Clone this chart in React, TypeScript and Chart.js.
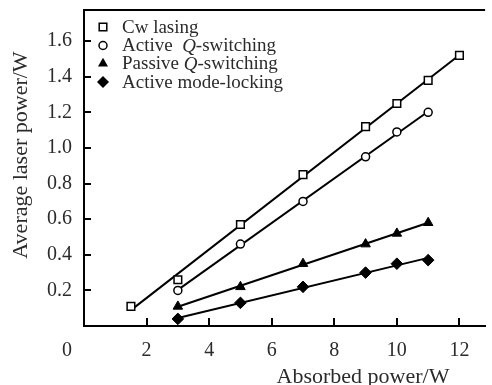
import React, { useEffect, useRef } from 'react';
import { Chart, registerables } from 'chart.js';

Chart.register(...registerables);

// Data
const cwX = [1.5, 3, 5, 7, 9, 10, 11, 12];
const cwY = [0.11, 0.26, 0.57, 0.85, 1.12, 1.25, 1.38, 1.52];
const aqX = [3, 5, 7, 9, 10, 11];
const aqY = [0.2, 0.46, 0.7, 0.95, 1.09, 1.2];
const pqX = [3, 5, 7, 9, 10, 11];
const pqY = [0.11, 0.22, 0.35, 0.46, 0.52, 0.58];
const mlX = [3, 5, 7, 9, 10, 11];
const mlY = [0.04, 0.13, 0.22, 0.3, 0.35, 0.37];

const xTicks = [2, 4, 6, 8, 10, 12];
const yTicks = [0.2, 0.4, 0.6, 0.8, 1.0, 1.2, 1.4, 1.6];
const xTitle = 'Absorbed power/W';
const yTitle = 'Average laser power/W';
const originLabel = '0';

type Part = { t: string; i?: boolean };
const legendItems: { marker: string; parts: Part[] }[] = [
  { marker: 'square', parts: [{ t: 'Cw lasing' }] },
  { marker: 'circle', parts: [{ t: 'Active  ' }, { t: 'Q', i: true }, { t: '-switching' }] },
  { marker: 'triangle', parts: [{ t: 'Passive ' }, { t: 'Q', i: true }, { t: '-switching' }] },
  { marker: 'diamond', parts: [{ t: 'Active mode-locking' }] },
];

const SERIF = "'Liberation Serif', 'Times New Roman', serif";
const TEXT = '#2b2b2b';

function pts(xs: number[], ys: number[]) {
  return xs.map((x, i) => ({ x, y: ys[i] }));
}

function fit(xs: number[], ys: number[]) {
  const n = xs.length;
  const mx = xs.reduce((a, b) => a + b, 0) / n;
  const my = ys.reduce((a, b) => a + b, 0) / n;
  let sxx = 0, sxy = 0;
  for (let i = 0; i < n; i++) {
    sxx += (xs[i] - mx) ** 2;
    sxy += (xs[i] - mx) * (ys[i] - my);
  }
  const b = sxy / sxx;
  const a = my - b * mx;
  const x0 = xs[0], x1 = xs[n - 1];
  return [{ x: x0, y: a + b * x0 }, { x: x1, y: a + b * x1 }];
}

function drawMarker(ctx: CanvasRenderingContext2D, kind: string, x: number, y: number) {
  ctx.save();
  ctx.lineWidth = 1.5;
  ctx.strokeStyle = '#000';
  ctx.beginPath();
  if (kind === 'square') {
    ctx.rect(x - 3.8, y - 3.8, 7.6, 7.6);
    ctx.fillStyle = '#fff';
    ctx.fill();
    ctx.stroke();
  } else if (kind === 'circle') {
    ctx.arc(x, y, 4, 0, Math.PI * 2);
    ctx.fillStyle = '#fff';
    ctx.fill();
    ctx.stroke();
  } else if (kind === 'triangle') {
    const r = 5.8;
    ctx.moveTo(x, y - r);
    ctx.lineTo(x + r * Math.sin((2 * Math.PI) / 3), y - r * Math.cos((2 * Math.PI) / 3));
    ctx.lineTo(x - r * Math.sin((2 * Math.PI) / 3), y - r * Math.cos((2 * Math.PI) / 3));
    ctx.closePath();
    ctx.fillStyle = '#000';
    ctx.fill();
  } else {
    const r = 6;
    ctx.moveTo(x, y - r);
    ctx.lineTo(x + r, y);
    ctx.lineTo(x, y + r);
    ctx.lineTo(x - r, y);
    ctx.closePath();
    ctx.fillStyle = '#000';
    ctx.fill();
  }
  ctx.restore();
}

const decor = {
  id: 'decor',
  afterDraw(chart: any) {
    const { ctx, chartArea, scales } = chart;
    const xs = scales.x, ys = scales.y;
    ctx.save();
    // top frame line
    ctx.strokeStyle = '#000';
    ctx.lineWidth = 2;
    ctx.beginPath();
    ctx.moveTo(chartArea.left - 1, chartArea.top);
    ctx.lineTo(chartArea.right, chartArea.top);
    ctx.stroke();
    // inward ticks
    ctx.lineWidth = 2;
    ctx.beginPath();
    xTicks.forEach((v) => {
      const px = Math.round(xs.getPixelForValue(v));
      ctx.moveTo(px, chartArea.bottom);
      ctx.lineTo(px, chartArea.bottom - 8);
    });
    yTicks.forEach((v) => {
      const py = Math.round(ys.getPixelForValue(v));
      ctx.moveTo(chartArea.left, py);
      ctx.lineTo(chartArea.left + 7, py);
    });
    ctx.stroke();

    // origin label
    ctx.fillStyle = TEXT;
    ctx.font = `20px ${SERIF}`;
    ctx.textAlign = 'center';
    ctx.textBaseline = 'alphabetic';
    ctx.fillText(originLabel, chartArea.left - 17, 356);

    // axis titles
    ctx.font = `22px ${SERIF}`;
    ctx.fillText(xTitle, 363, 383);
    ctx.save();
    ctx.translate(27, 155);
    ctx.rotate(-Math.PI / 2);
    ctx.fillText(yTitle, 0, 0);
    ctx.restore();

    // legend
    const rowY = [27, 45.5, 63.5, 82];
    legendItems.forEach((item, i) => {
      const y = rowY[i];
      drawMarker(ctx, item.marker, 103, y);
      let x = 122;
      ctx.textAlign = 'left';
      ctx.textBaseline = 'middle';
      ctx.fillStyle = TEXT;
      item.parts.forEach((p) => {
        ctx.font = `${p.i ? 'italic ' : ''}19px ${SERIF}`;
        ctx.fillText(p.t, x, y + 1);
        x += ctx.measureText(p.t).width;
      });
    });
    ctx.restore();
  },
};

export default function App() {
  const ref = useRef<HTMLCanvasElement | null>(null);
  useEffect(() => {
    if (!ref.current) return;
    const pointDs = (label: string, data: any[], style: string, radius: number, filled: boolean) => ({
      label,
      data,
      showLine: false,
      pointStyle: style,
      pointRadius: radius,
      pointBorderWidth: filled ? 1 : 1.5,
      pointBorderColor: '#000',
      pointBackgroundColor: filled ? '#000' : '#fff',
      order: 1,
    });
    const lineDs = (label: string, data: any[]) => ({
      label,
      data,
      showLine: true,
      borderColor: '#000',
      borderWidth: 2,
      pointRadius: 0,
      fill: false,
      order: 2,
    });
    const chart = new Chart(ref.current, {
      type: 'scatter',
      data: {
        datasets: [
          lineDs('cw fit', fit(cwX, cwY)),
          lineDs('aq fit', fit(aqX, aqY)),
          lineDs('pq fit', fit(pqX, pqY)),
          lineDs('ml fit', fit(mlX, mlY)),
          pointDs('Cw lasing', pts(cwX, cwY), 'rect', 5.4, false),
          pointDs('Active Q-switching', pts(aqX, aqY), 'circle', 4, false),
          pointDs('Passive Q-switching', pts(pqX, pqY), 'triangle', 5.5, true),
          pointDs('Active mode-locking', pts(mlX, mlY), 'rectRot', 5.8, true),
        ] as any,
      },
      plugins: [decor],
      options: {
        animation: false,
        responsive: false,
        maintainAspectRatio: false,
        events: [],
        layout: { padding: { top: 10, right: 0, left: 0, bottom: 0 } },
        plugins: { legend: { display: false }, tooltip: { enabled: false }, title: { display: false } },
        scales: {
          x: {
            type: 'linear',
            min: 0,
            max: 12.82,
            afterBuildTicks: (s: any) => {
              s.ticks = xTicks.map((v) => ({ value: v }));
            },
            afterFit: (s: any) => {
              s.height = 59;
              s.paddingLeft = 0;
              s.paddingRight = 0;
            },
            grid: { display: false, drawTicks: false },
            border: { display: true, color: '#000', width: 2 },
            ticks: {
              font: { family: SERIF, size: 20 },
              color: TEXT,
              padding: 13,
              maxRotation: 0,
              autoSkip: false,
              callback: (v: any) => String(v),
            },
          },
          y: {
            type: 'linear',
            min: 0,
            max: 1.775,
            afterBuildTicks: (s: any) => {
              s.ticks = yTicks.map((v) => ({ value: v }));
            },
            afterFit: (s: any) => {
              s.width = 84;
              s.paddingTop = 0;
              s.paddingBottom = 0;
            },
            grid: { display: false, drawTicks: false },
            border: { display: true, color: '#000', width: 2 },
            ticks: {
              font: { family: SERIF, size: 20 },
              color: TEXT,
              padding: 12,
              autoSkip: false,
              callback: (v: any) => Number(v).toFixed(1),
            },
          },
        },
      } as any,
    });
    return () => chart.destroy();
  }, []);
  return (
    <div style={{ position: 'fixed', left: 0, top: 0, width: 492, height: 385, background: '#fff' }}>
      <canvas ref={ref} width={492} height={385} style={{ width: 492, height: 385, display: 'block' }} />
    </div>
  );
}
